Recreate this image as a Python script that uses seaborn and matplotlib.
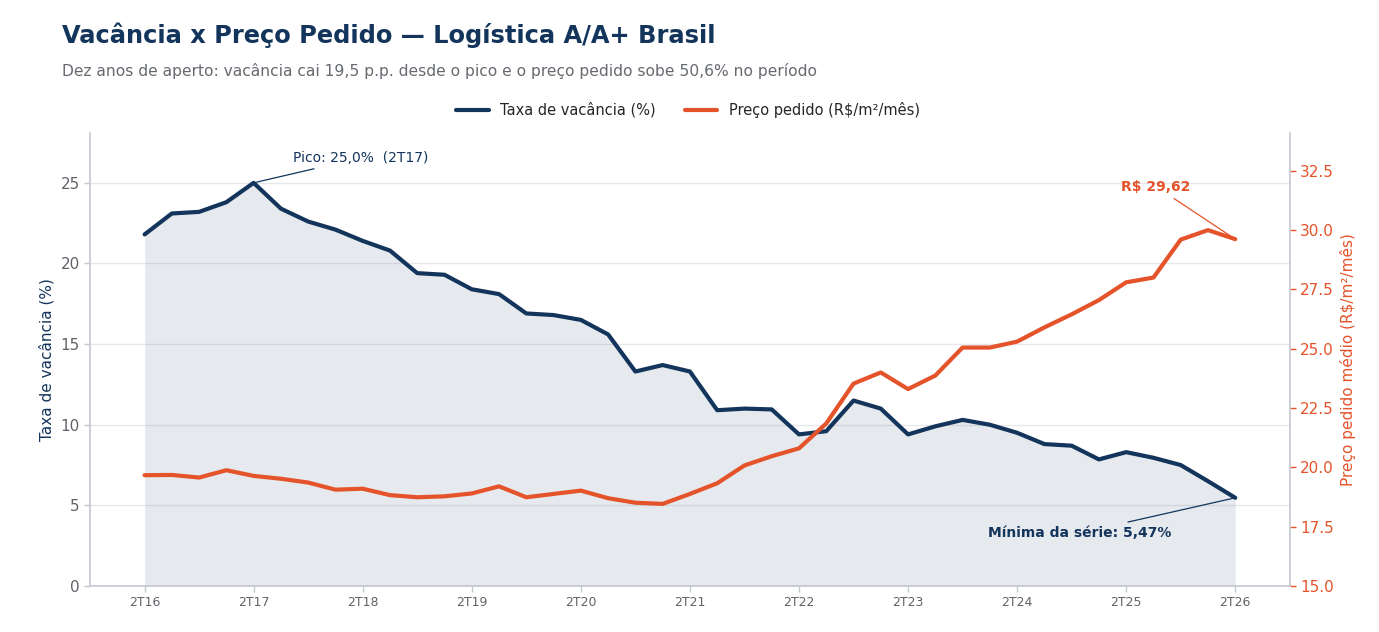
import numpy as np
import pandas as pd
import seaborn as sns
import matplotlib.pyplot as plt

# quarterly series, 2T16 .. 2T26
quarters = [f"{q}T{y}" for y in range(16, 27) for q in (1, 2, 3, 4)][1:42]
vacancia = [21.8, 23.1, 23.2, 23.8, 25.0, 23.4, 22.6, 22.1, 21.4, 20.8,
            19.4, 19.3, 18.4, 18.1, 16.9, 16.8, 16.5, 15.6, 13.3, 13.7,
            13.3, 10.9, 11.0, 10.95, 9.4, 9.6, 11.5, 11.0, 9.4, 9.9,
            10.3, 10.0, 9.5, 8.8, 8.7, 7.85, 8.3, 7.95, 7.5, 6.5, 5.47]
preco = [19.67, 19.68, 19.57, 19.88, 19.64, 19.52, 19.36, 19.06, 19.1, 18.83,
         18.74, 18.78, 18.9, 19.2, 18.74, 18.88, 19.02, 18.7, 18.51, 18.46,
         18.88, 19.33, 20.08, 20.47, 20.8, 21.85, 23.53, 24.0, 23.3, 23.87,
         25.05, 25.05, 25.3, 25.9, 26.45, 27.05, 27.8, 28.0, 29.6, 30.0, 29.62]

NAVY = "#13345b"
ORANGE = "#e5532a"
GRAY = "#5f6368"

df = pd.DataFrame({"q": quarters, "vac": vacancia, "preco": preco})
df["x"] = np.arange(len(df))

sns.set_theme(style="whitegrid")
plt.rcParams["font.family"] = ["DejaVu Sans"]

fig = plt.figure(figsize=(13.79, 6.32), dpi=100)
ax = fig.add_axes([0.0653, 0.0728, 0.870, 0.717])
ax2 = ax.twinx()

ax.fill_between(df["x"], df["vac"], 0, color=NAVY, alpha=0.1, lw=0)
sns.lineplot(data=df, x="x", y="vac", ax=ax, color=NAVY, lw=3,
             label="Taxa de vacância (%)", legend=False)
sns.lineplot(data=df, x="x", y="preco", ax=ax2, color=ORANGE, lw=3,
             label="Preço pedido (R$/m²/mês)", legend=False)

ax.set_xlim(-2, 42)
ax.set_ylim(0, 28.1)
ax2.set_ylim(15, 34.1)
ax.set_yticks([0, 5, 10, 15, 20, 25])
ax2.set_yticks([15, 17.5, 20, 22.5, 25, 27.5, 30, 32.5])
ax.set_xticks(df["x"][::4])
ax.set_xticklabels(df["q"][::4])
ax.grid(axis="x", visible=False)
ax.grid(axis="y", color="#e6e8ec", lw=1)
ax2.grid(False)

ax.set_xlabel("")
ax.set_ylabel("Taxa de vacância (%)", color=NAVY, fontsize=11)
ax2.set_ylabel("Preço pedido médio (R$/m²/mês)", color=ORANGE, fontsize=11)

ax.tick_params(axis="x", labelsize=9, colors=GRAY, length=4, width=1, bottom=True, color="#c3c7ce")
ax.tick_params(axis="y", labelsize=11, colors=GRAY, length=4, width=1, left=True, color="#c3c7ce")
ax2.tick_params(axis="y", labelsize=11, colors=ORANGE, length=4, width=1, right=True)

for a in (ax, ax2):
    a.spines["top"].set_visible(False)
    for s in ("left", "bottom", "right"):
        a.spines[s].set_color("#c3c7ce")
        a.spines[s].set_linewidth(1.2)
ax.spines["right"].set_visible(False)
ax2.spines["left"].set_visible(False)
ax2.spines["bottom"].set_visible(False)

ipk = int(np.argmax(vacancia))
ax.annotate("Pico: 25,0%  (2T17)", xy=(ipk, vacancia[ipk]), xytext=(7.93, 26.55),
            ha="center", va="center", fontsize=10, color=NAVY,
            arrowprops=dict(arrowstyle="-", color=NAVY, lw=0.9))
ax.annotate("Mínima da série: 5,47%", xy=(40, vacancia[-1]), xytext=(34.3, 3.29),
            ha="center", va="center", fontsize=10, color=NAVY, fontweight="bold",
            arrowprops=dict(arrowstyle="-", color=NAVY, lw=0.9))
ax2.annotate("R$ 29,62", xy=(40, preco[-1]), xytext=(37.1, 31.83),
             ha="center", va="center", fontsize=10, color=ORANGE, fontweight="bold",
             arrowprops=dict(arrowstyle="-", color=ORANGE, lw=0.9))

h1, l1 = ax.get_legend_handles_labels()
h2, l2 = ax2.get_legend_handles_labels()
fig.legend(h1 + h2, l1 + l2, loc="center", bbox_to_anchor=(0.499, 0.826), ncol=2,
           frameon=False, fontsize=10.5, handlelength=2.2, columnspacing=2.0)

fig.text(0.045, 0.944, "Vacância x Preço Pedido — Logística A/A+ Brasil",
         fontsize=17.4, fontweight="bold", color=NAVY, va="center")
fig.text(0.045, 0.887, "Dez anos de aperto: vacância cai 19,5 p.p. desde o pico e o preço pedido sobe 50,6% no período",
         fontsize=11.2, color="#666a70", va="center")

fig.savefig("out.png", dpi=100)
